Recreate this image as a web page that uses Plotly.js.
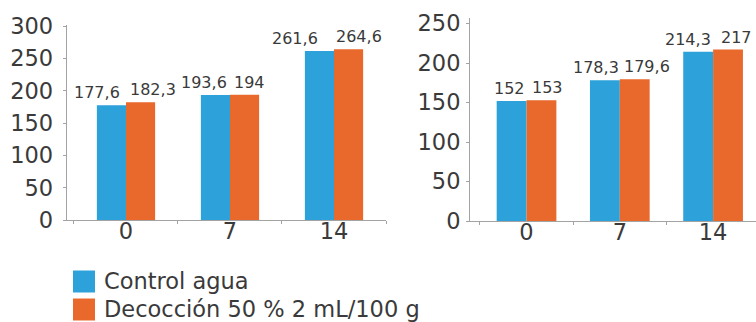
<!DOCTYPE html>
<html>
<head>
<meta charset="utf-8">
<script src="https://cdn.plot.ly/plotly-3.0.1.min.js"></script>
<style>
  html, body { margin: 0; padding: 0; background: #fff; }
  #chart { width: 756px; height: 322px; }
</style>
</head>
<body>
<div id="chart"></div>
<script>
// Days of treatment (x categories)
const days = ['0', '7', '14'];

// Left panel
const controlLeft = [177.6, 193.6, 261.6];
const decoctionLeft = [182.3, 194, 264.6];

// Right panel
const controlRight = [152, 178.3, 214.3];
const decoctionRight = [153, 179.6, 217];

// Series names
const seriesNames = ['Control agua', 'Decocción 50 % 2 mL/100 g'];

// Y tick values
const yTicksLeft = [0, 50, 100, 150, 200, 250, 300];
const yTicksRight = [0, 50, 100, 150, 200, 250];

// ---- styling ----
const W = 756, H = 322;
const px = x => x / W;
const py = y => 1 - y / H;
const BLUE = '#2ca1da';
const ORANGE = '#e8692b';
const AXIS = '#a3a3a3';
const TEXT = '#3a3a3a';
const FONT = 'DejaVu Sans, Verdana, sans-serif';

const fmt = v => String(v).replace('.', ',');

function barPair(x, a, b, xa, ya, w) {
  return [
    { type: 'bar', x: x, y: a, name: seriesNames[0], xaxis: xa, yaxis: ya,
      width: w, offset: -w, marker: { color: BLUE }, showlegend: false, hoverinfo: 'none' },
    { type: 'bar', x: x, y: b, name: seriesNames[1], xaxis: xa, yaxis: ya,
      width: w, offset: 0, marker: { color: ORANGE }, showlegend: false, hoverinfo: 'none' }
  ];
}

const data = [].concat(
  barPair(days, controlLeft, decoctionLeft, 'x', 'y', 0.28),
  barPair(days, controlRight, decoctionRight, 'x2', 'y2', 0.32)
);

// value labels: control to the left of the group centre, decoction to the right
// (small per-label pixel nudges)
const nudgeLeft = [[-4, 2], [-1, 2], [-14, 0]];
const nudgeRight = [[0, 3], [1, 2], [0, 6]];
const annotations = [];
function addLabels(a, b, xa, ya, nudge) {
  days.forEach((d, i) => {
    annotations.push({ x: i, y: a[i], xref: xa, yref: ya, text: fmt(a[i]),
      xanchor: 'right', yanchor: 'bottom', xshift: nudge[i][0], yshift: 1,
      showarrow: false, font: { family: FONT, size: 16, color: TEXT } });
    annotations.push({ x: i, y: b[i], xref: xa, yref: ya, text: fmt(b[i]),
      xanchor: 'left', yanchor: 'bottom', xshift: nudge[i][1], yshift: 1,
      showarrow: false, font: { family: FONT, size: 16, color: TEXT } });
  });
}
addLabels(controlLeft, decoctionLeft, 'x', 'y', nudgeLeft);
addLabels(controlRight, decoctionRight, 'x2', 'y2', nudgeRight);

// legend drawn as swatches + text
const legendColors = [BLUE, ORANGE];
const legendRowsY = [281, 309];
const shapes = [];
seriesNames.forEach((name, k) => {
  const cy = legendRowsY[k];
  shapes.push({ type: 'rect', xref: 'paper', yref: 'paper',
    x0: px(73), x1: px(95), y0: py(cy - 10.5), y1: py(cy + 11.5),
    fillcolor: legendColors[k], line: { width: 0 } });
  annotations.push({ xref: 'paper', yref: 'paper', x: px(102), y: py(cy),
    xanchor: 'left', yanchor: 'middle', text: name, showarrow: false,
    font: { family: FONT, size: 22.5, color: TEXT } });
});

const xCommon = {
  type: 'category', showline: true, linecolor: AXIS, linewidth: 1,
  showgrid: false, zeroline: false, fixedrange: true,
  ticks: 'outside', ticklen: 3, tickcolor: AXIS, tickson: 'boundaries',
  tickfont: { family: FONT, size: 22.5, color: TEXT }
};
const yCommon = {
  showline: true, linecolor: AXIS, linewidth: 1, showgrid: false,
  zeroline: false, fixedrange: true, ticks: 'outside', ticklen: 3, tickcolor: AXIS,
  tickmode: 'array', tickfont: { family: FONT, size: 22.5, color: TEXT }
};

const layout = {
  width: W, height: H,
  margin: { l: 0, r: 0, t: 0, b: 0, pad: 0 },
  paper_bgcolor: '#ffffff', plot_bgcolor: '#ffffff',
  barmode: 'overlay',
  showlegend: false,
  xaxis: Object.assign({}, xCommon, { domain: [px(66.7), px(386)], range: [-0.57, 2.5],
    anchor: 'y', ticklabelstandoff: -9 }),
  yaxis: Object.assign({}, yCommon, { domain: [py(220), py(25)], range: [0, 302],
    tickvals: yTicksLeft, anchor: 'x', ticklabelstandoff: 5 }),
  xaxis2: Object.assign({}, xCommon, { domain: [px(470), 1], range: [-0.606, 2.46],
    anchor: 'y2', ticklabelstandoff: -9 }),
  yaxis2: Object.assign({}, yCommon, { domain: [py(221), py(18)], range: [0, 257],
    tickvals: yTicksRight, anchor: 'x2', ticklabelstandoff: 1 }),
  annotations: annotations,
  shapes: shapes
};

Plotly.newPlot('chart', data, layout, { displayModeBar: false, staticPlot: true });
</script>
</body>
</html>
